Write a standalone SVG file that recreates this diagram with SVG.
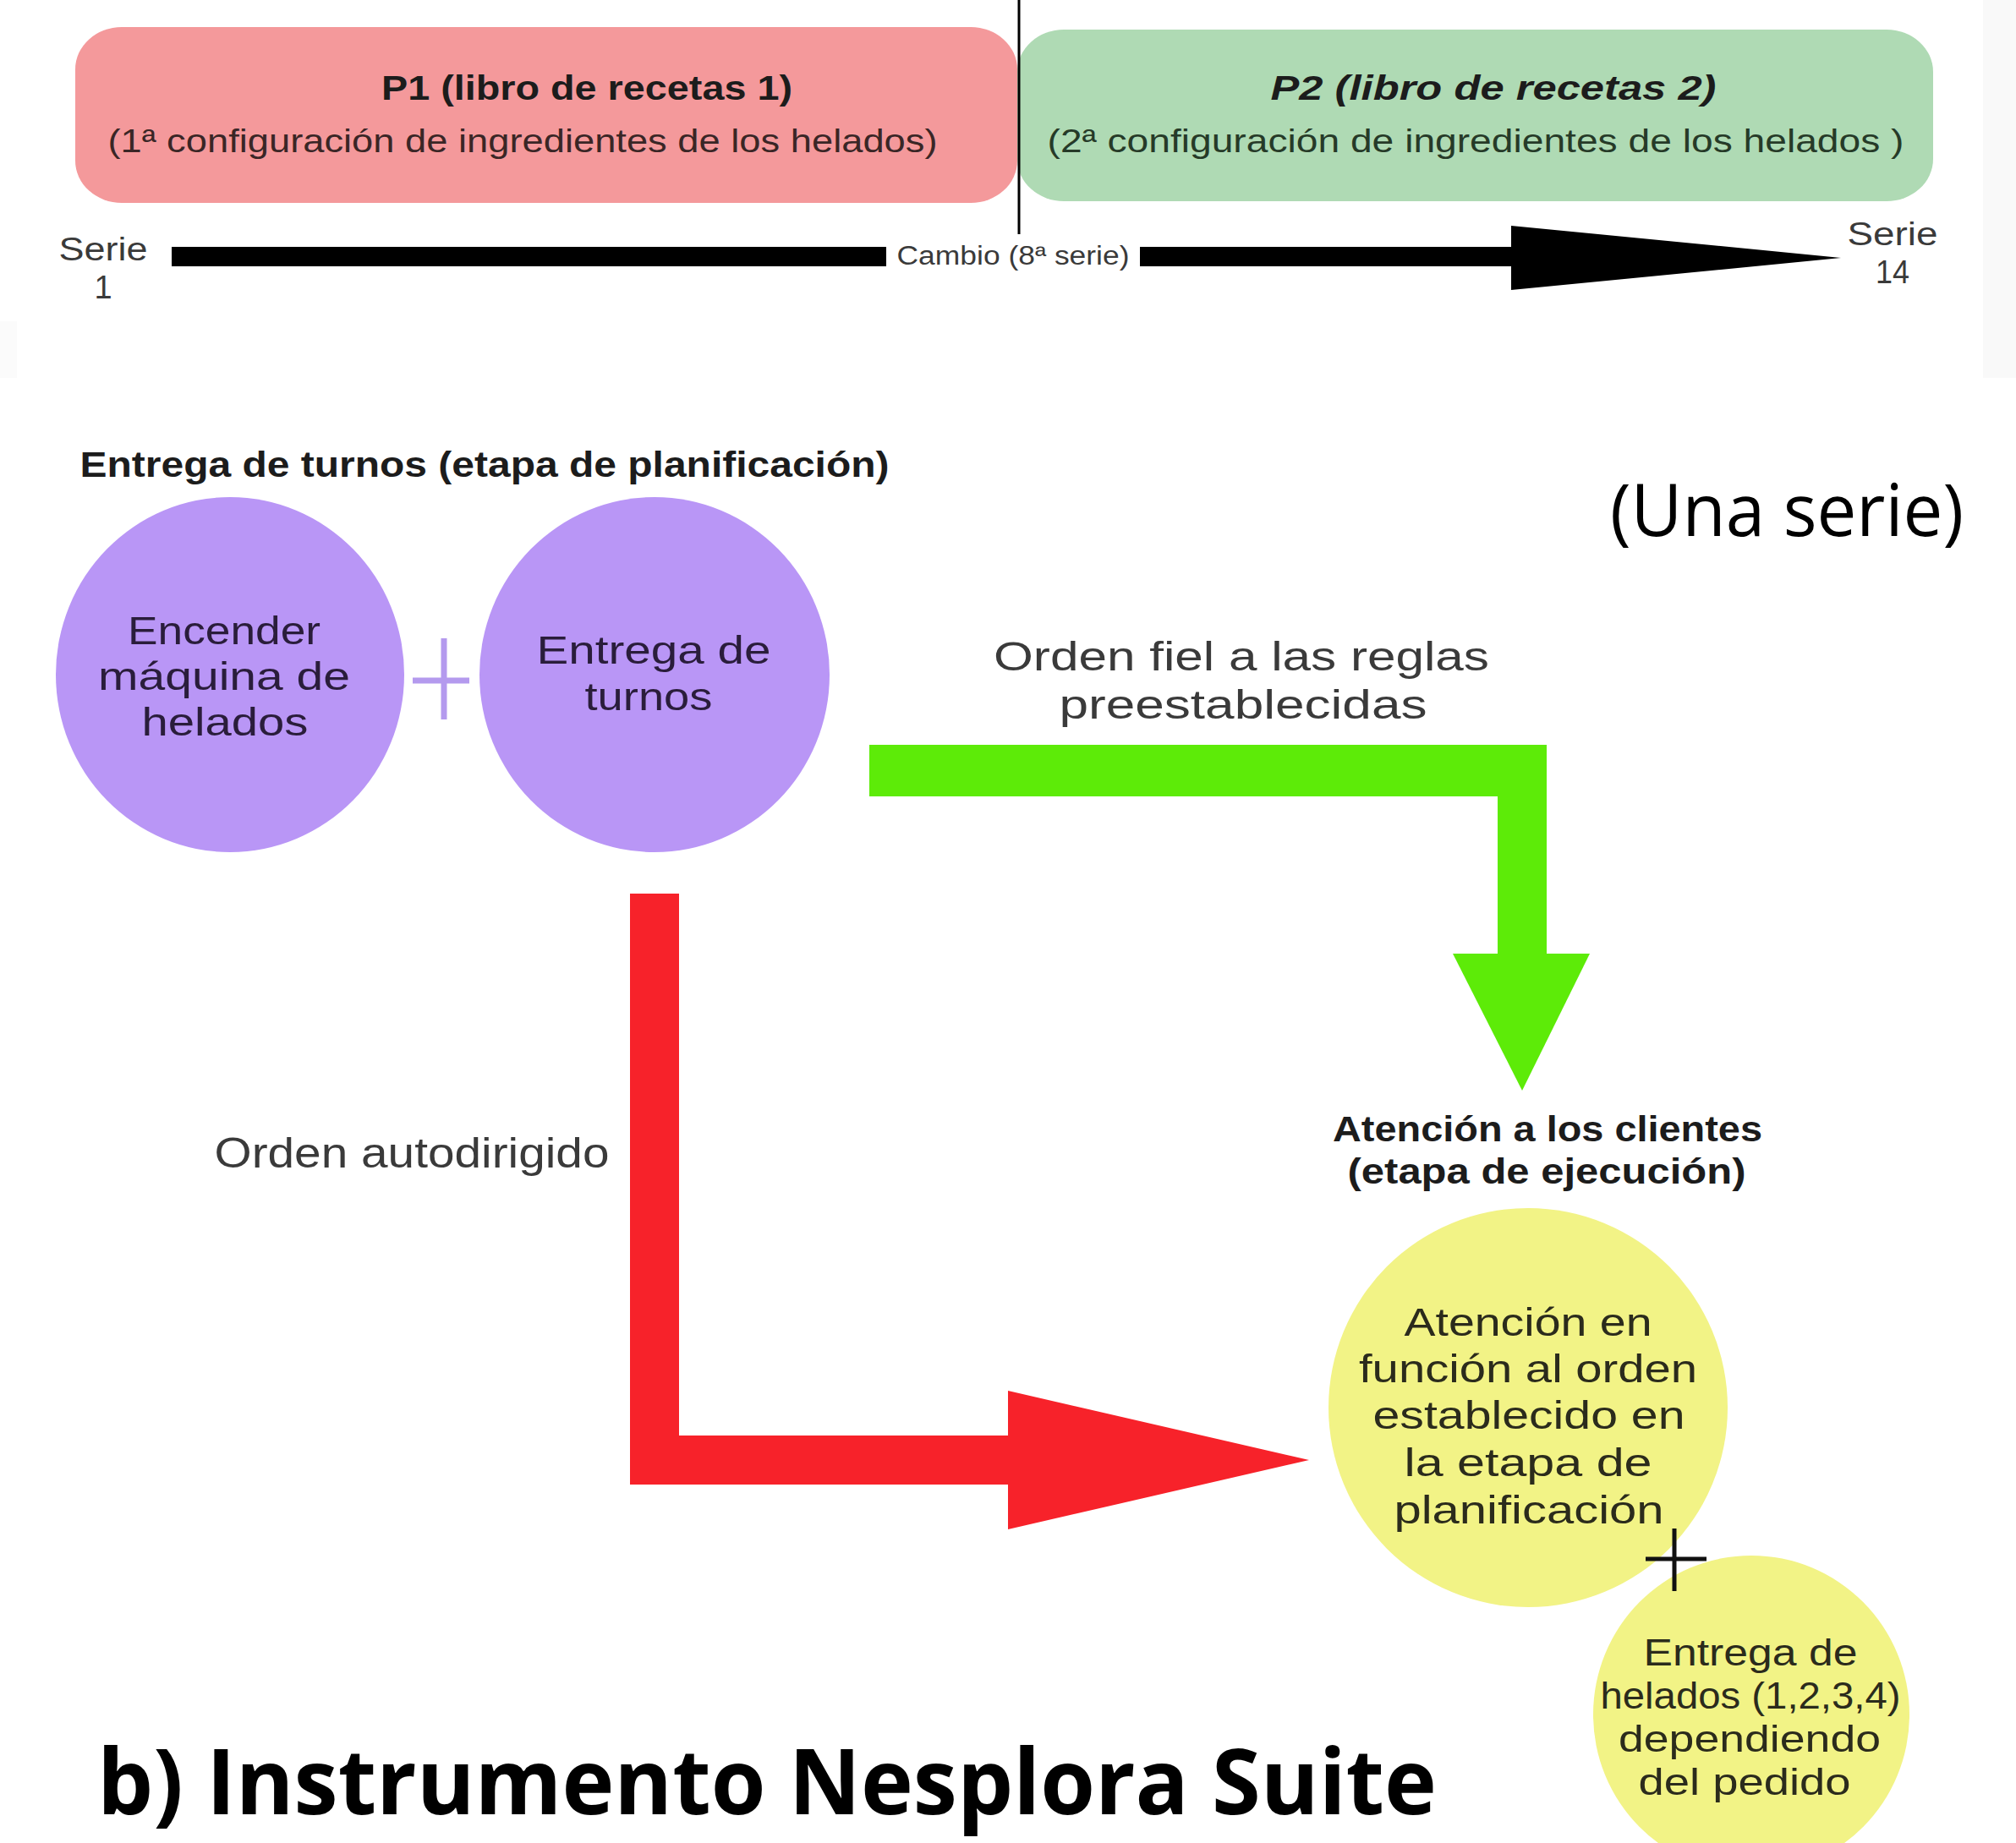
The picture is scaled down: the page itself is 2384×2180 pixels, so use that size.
<svg xmlns="http://www.w3.org/2000/svg" width="2384" height="2180" viewBox="0 0 2384 2180">
<style>
.t{font-family:"Liberation Sans",Arial,sans-serif;text-anchor:middle;}
.b{font-weight:bold;}
.dk{fill:#1c1c1c;}
.gr{fill:#3a3a3a;}
.pt{fill:#2a1d3b;font-size:46px;}
.yt{fill:#2b2b1c;font-size:47px;}
.yt2{fill:#2b2b1c;font-size:44px;}
.os{font-family:"Open Sans","Noto Sans",sans-serif;fill:#000;}
</style>
<rect x="0" y="0" width="2384" height="2180" fill="#ffffff"/>
<rect x="2345" y="0" width="39" height="447" fill="#f9f9f9"/>
<rect x="0" y="380" width="20" height="67" fill="#fbfbfb"/>

<g id="p1">
<rect x="89" y="32" width="1114" height="208" rx="55" ry="50" fill="#F4999B"/>
<text class="t b dk" x="694" y="118" font-size="40" textLength="486" lengthAdjust="spacingAndGlyphs">P1 (libro de recetas 1)</text>
<text class="t" x="618" y="180" font-size="38" fill="#3a2626" textLength="981" lengthAdjust="spacingAndGlyphs">(1ª configuración de ingredientes de los helados)</text>
</g>
<g id="p2">
<rect x="1203" y="35" width="1083" height="203" rx="55" ry="50" fill="#AFDAB4"/>
<text class="t b dk" x="1766" y="118" font-size="40" font-style="italic" textLength="527" lengthAdjust="spacingAndGlyphs">P2 (libro de recetas 2)</text>
<text class="t" x="1745" y="180" font-size="38" fill="#263a28" textLength="1013" lengthAdjust="spacingAndGlyphs">(2ª configuración de ingredientes de los helados )</text>
</g>
<g id="timeline">
<line x1="1205" y1="0" x2="1205" y2="277" stroke="#000" stroke-width="3"/>
<rect x="203" y="292" width="845" height="23" fill="#000"/>
<rect x="1348" y="292" width="442" height="23" fill="#000"/>
<polygon points="1787,267 1787,343 2177,305" fill="#000"/>
<text class="t gr" x="1198" y="313" font-size="31" textLength="275" lengthAdjust="spacingAndGlyphs">Cambio (8ª serie)</text>
<text class="t gr" x="122" y="308" font-size="38" textLength="105" lengthAdjust="spacingAndGlyphs">Serie</text>
<text class="t gr" x="122" y="353" font-size="38">1</text>
<text class="t gr" x="2238" y="290" font-size="38" textLength="107" lengthAdjust="spacingAndGlyphs">Serie</text>
<text class="t gr" x="2238" y="335" font-size="38" textLength="40" lengthAdjust="spacingAndGlyphs">14</text>
</g>

<text class="t b dk" x="573" y="564" font-size="42" textLength="957" lengthAdjust="spacingAndGlyphs">Entrega de turnos (etapa de planificación)</text>
<text class="os" x="2113" y="634" font-size="86" text-anchor="middle" textLength="418" lengthAdjust="spacingAndGlyphs">(Una serie)</text>

<g id="connectors">
<g id="green-arrow" fill="#5DEB08">
<rect x="1028" y="881" width="801" height="61"/>
<rect x="1771" y="881" width="58" height="248"/>
<polygon points="1718,1128 1880,1128 1800,1290"/>
</g>
<g id="red-arrow" fill="#F7222A">
<rect x="745" y="1057" width="58" height="699"/>
<rect x="745" y="1698" width="449" height="58"/>
<polygon points="1192,1645 1192,1809 1548,1727"/>
</g>
<text class="t gr" x="1468" y="793" font-size="48" textLength="586" lengthAdjust="spacingAndGlyphs">Orden fiel a las reglas</text>
<text class="t gr" x="1470" y="850" font-size="48" textLength="435" lengthAdjust="spacingAndGlyphs">preestablecidas</text>
<text class="t gr" x="487" y="1381" font-size="50" textLength="467" lengthAdjust="spacingAndGlyphs">Orden autodirigido</text>
</g>

<g id="encender">
<ellipse cx="272" cy="798" rx="206" ry="210" fill="#B996F6"/>
<text class="t pt" x="265" y="762" textLength="228" lengthAdjust="spacingAndGlyphs">Encender</text>
<text class="t pt" x="265" y="816" textLength="298" lengthAdjust="spacingAndGlyphs">máquina de</text>
<text class="t pt" x="266" y="870" textLength="197" lengthAdjust="spacingAndGlyphs">helados</text>
</g>
<g id="plus1" stroke="#B49AEE" stroke-width="7">
<line x1="525" y1="755" x2="525" y2="851"/>
<line x1="488" y1="805" x2="555" y2="805"/>
</g>
<g id="entrega-turnos">
<ellipse cx="774" cy="798" rx="207" ry="210" fill="#B996F6"/>
<text class="t pt" x="773" y="785" textLength="277" lengthAdjust="spacingAndGlyphs">Entrega de</text>
<text class="t pt" x="767" y="840" textLength="151" lengthAdjust="spacingAndGlyphs">turnos</text>
</g>

<g id="atencion-heading">
<text class="t b dk" x="1830" y="1350" font-size="42" textLength="508" lengthAdjust="spacingAndGlyphs">Atención a los clientes</text>
<text class="t b dk" x="1829" y="1400" font-size="42" textLength="471" lengthAdjust="spacingAndGlyphs">(etapa de ejecución)</text>
</g>
<g id="atencion">
<circle cx="1807" cy="1665" r="236" fill="#F2F386"/>
<text class="t yt" x="1807" y="1580" textLength="293" lengthAdjust="spacingAndGlyphs">Atención en</text>
<text class="t yt" x="1807" y="1635" textLength="400" lengthAdjust="spacingAndGlyphs">función al orden</text>
<text class="t yt" x="1808" y="1690" textLength="369" lengthAdjust="spacingAndGlyphs">establecido en</text>
<text class="t yt" x="1807" y="1746" textLength="293" lengthAdjust="spacingAndGlyphs">la etapa de</text>
<text class="t yt" x="1808" y="1802" textLength="319" lengthAdjust="spacingAndGlyphs">planificación</text>
</g>
<g id="entrega-helados">
<ellipse cx="2071" cy="2028" rx="187" ry="188" fill="#F2F386"/>
<text class="t yt2" x="2070" y="1970" textLength="253" lengthAdjust="spacingAndGlyphs">Entrega de</text>
<text class="t yt2" x="2070" y="2021" textLength="355" lengthAdjust="spacingAndGlyphs">helados (1,2,3,4)</text>
<text class="t yt2" x="2069" y="2072" textLength="310" lengthAdjust="spacingAndGlyphs">dependiendo</text>
<text class="t yt2" x="2063" y="2123" textLength="251" lengthAdjust="spacingAndGlyphs">del pedido</text>
</g>
<g id="plus2" stroke="#111" stroke-width="5">
<line x1="1946" y1="1844" x2="2018" y2="1844"/>
<line x1="1980" y1="1808" x2="1980" y2="1882"/>
</g>

<text class="os" x="115" y="2146" font-size="108" font-weight="bold" textLength="1584" lengthAdjust="spacingAndGlyphs">b) Instrumento Nesplora Suite</text>
</svg>
